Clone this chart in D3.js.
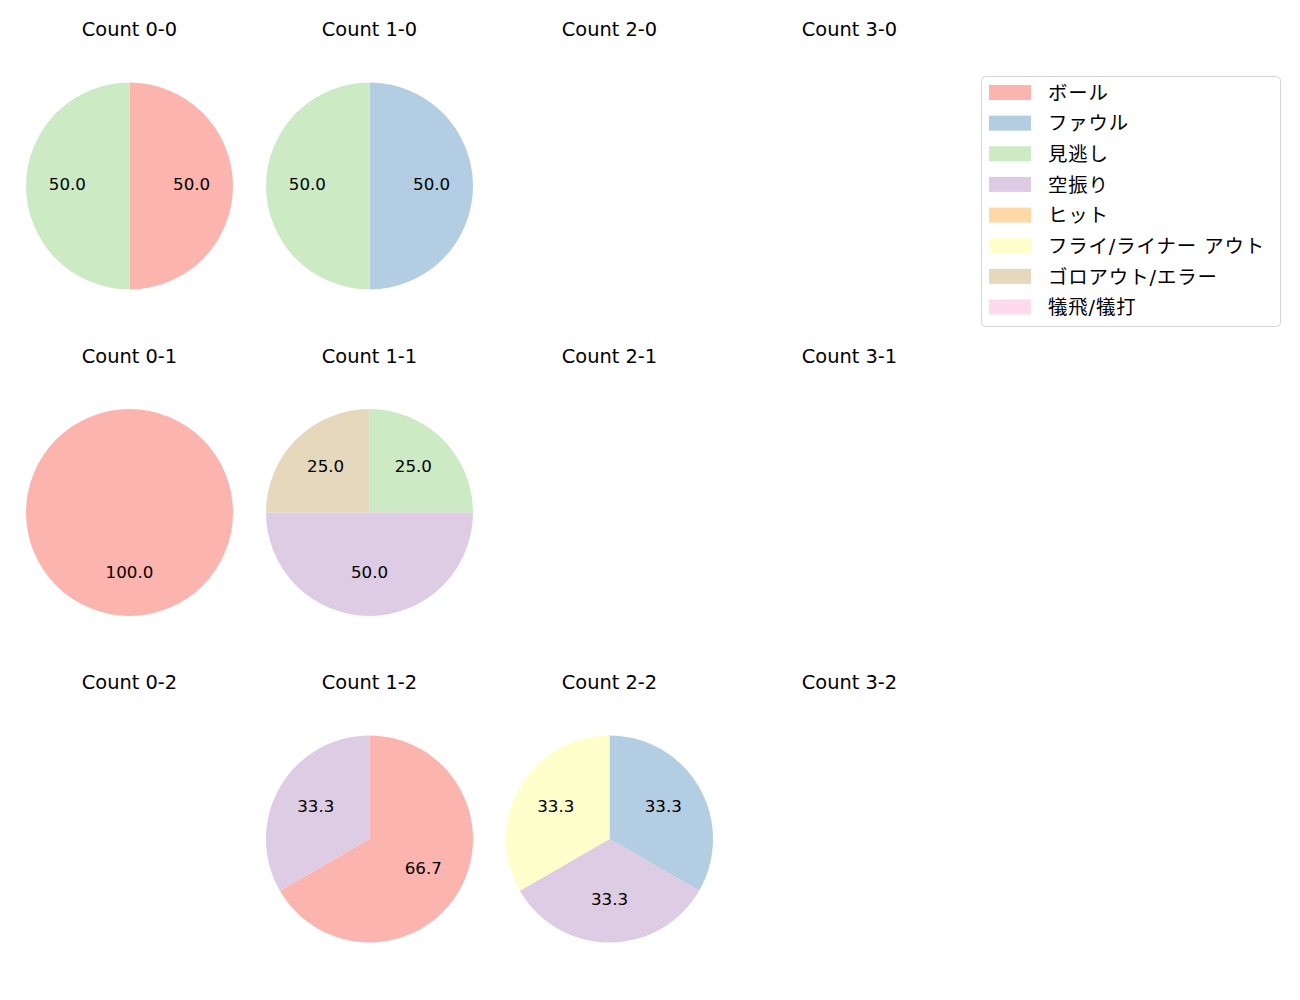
<!DOCTYPE html>
<html>
<head>
<meta charset="utf-8">
<script src="https://cdn.jsdelivr.net/npm/d3@7"></script>
<style>
  body { margin: 0; background: #fff; }
  svg { font-family: "DejaVu Sans", "Noto Sans CJK JP", sans-serif; }
</style>
</head>
<body>
<svg id="chart" width="1300" height="1000"></svg>
<script>
const categories = ["ボール", "ファウル", "見逃し", "空振り", "ヒット", "フライ/ライナー アウト", "ゴロアウト/エラー", "犠飛/犠打"];
const colors = ["#fbb4ae", "#b3cde3", "#ccebc5", "#decbe4", "#fed9a6", "#ffffcc", "#e5d8bd", "#fddaec"];
const balls = [0, 1, 2, 3];
const strikes = [0, 1, 2];
// values per count, in category order
const count00 = [1, 0, 1, 0, 0, 0, 0, 0];
const count10 = [0, 1, 1, 0, 0, 0, 0, 0];
const count20 = [];
const count30 = [];
const count01 = [1, 0, 0, 0, 0, 0, 0, 0];
const count11 = [0, 0, 1, 2, 0, 0, 1, 0];
const count21 = [];
const count31 = [];
const count02 = [];
const count12 = [2, 0, 0, 1, 0, 0, 0, 0];
const count22 = [0, 1, 0, 1, 0, 1, 0, 0];
const count32 = [];
const countData = {
  "0-0": count00, "1-0": count10, "2-0": count20, "3-0": count30,
  "0-1": count01, "1-1": count11, "2-1": count21, "3-1": count31,
  "0-2": count02, "1-2": count12, "2-2": count22, "3-2": count32
};

const svg = d3.select("#chart");
const x = d3.scaleLinear().domain([0, 3]).range([129.5, 849.5]);
const y = d3.scaleLinear().domain([0, 2]).range([186, 839]);
const R = 103.5;
const pie = d3.pie().sort(null).value(d => d.v);
const arc = d3.arc().innerRadius(0).outerRadius(R);
const labelArc = d3.arc().innerRadius(R * 0.6).outerRadius(R * 0.6);

strikes.forEach(s => {
  balls.forEach(b => {
    const key = b + "-" + s;
    const cx = x(b), cy = y(s);
    svg.append("text")
      .attr("x", cx).attr("y", cy - 150)
      .attr("text-anchor", "middle")
      .attr("font-size", 19.4)
      .attr("fill", "#000")
      .text("Count " + key);
    const vals = countData[key];
    if (!vals.length) return;
    const total = d3.sum(vals);
    const data = vals.map((v, i) => ({ v, i })).filter(d => d.v > 0);
    const g = svg.append("g").attr("transform", `translate(${cx},${cy})`);
    const arcs = pie(data);
    g.selectAll("path").data(arcs).join("path")
      .attr("d", arc)
      .attr("fill", d => colors[d.data.i]);
    g.selectAll("text").data(arcs).join("text")
      .attr("transform", d => `translate(${labelArc.centroid(d)})`)
      .attr("text-anchor", "middle")
      .attr("dominant-baseline", "central")
      .attr("dy", -2.3)
      .attr("font-size", 16.7)
      .attr("fill", "#000")
      .text(d => (d.data.v / total * 100).toFixed(1));
  });
});

// legend
const lg = svg.append("g");
lg.append("rect")
  .attr("x", 981.5).attr("y", 76.5).attr("width", 299).attr("height", 250)
  .attr("rx", 4).attr("fill", "#fff").attr("stroke", "#d5d5d5");
const ly = d3.scaleLinear().domain([0, 7]).range([92.5, 307]);
categories.forEach((c, i) => {
  lg.append("rect")
    .attr("x", 989).attr("y", ly(i) - 7.5).attr("width", 42).attr("height", 15)
    .attr("fill", colors[i]);
  lg.append("text")
    .attr("x", 1048).attr("y", ly(i) + 0.8)
    .attr("dominant-baseline", "central")
    .attr("font-size", 19.4)
    .attr("letter-spacing", 0.9)
    .attr("fill", "#000")
    .text(c);
});
</script>
</body>
</html>
